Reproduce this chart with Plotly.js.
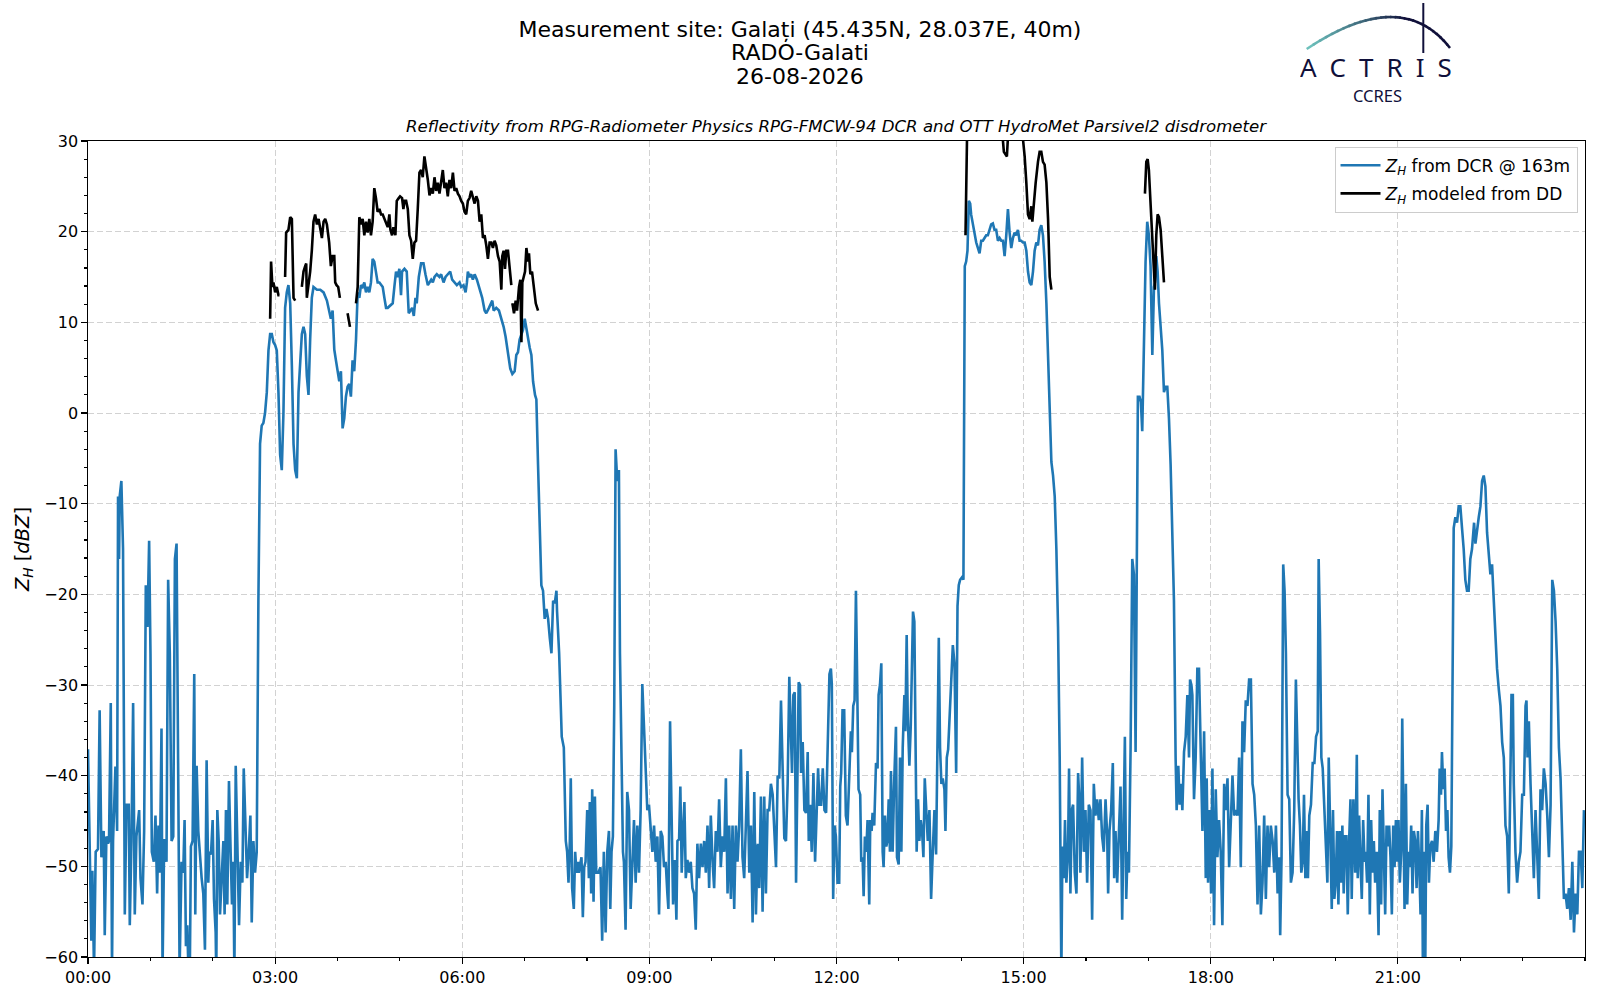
<!DOCTYPE html>
<html>
<head>
<meta charset="utf-8">
<script src="https://cdn.plot.ly/plotly-3.0.1.min.js"></script>
<style>
  html, body { margin: 0; padding: 0; background: #fff; }
  #chart { width: 1600px; height: 1000px; }
</style>
</head>
<body>
<div id="chart"></div>
<script>
/* global Plotly */
// Z_H from the cloud radar at 163 m, minutes after 00:00
const DCR_MINUTES = [
  0.0, 1.6, 3.2, 4.2, 5.8, 7.4, 9.6, 11.2, 12.9, 15.1,
  16.1, 17.7, 19.3, 20.2, 21.9, 23.1, 24.1, 26.4, 28.0, 28.9,
  29.9, 30.5, 32.1, 33.7, 35.4, 37.0, 39.2, 40.2, 41.8, 43.4,
  45.0, 46.6, 48.2, 49.2, 50.5, 52.4, 54.0, 55.6, 57.2, 58.8,
  60.1, 61.4, 63.3, 64.9, 66.5, 67.8, 69.1, 70.7, 71.7, 73.3,
  75.5, 77.1, 78.7, 80.4, 82.0, 83.6, 85.2, 86.8, 88.1, 90.0,
  91.6, 92.9, 94.2, 95.5, 96.7, 98.0, 99.0, 100.6, 102.2, 103.2,
  104.5, 106.1, 107.7, 109.3, 110.9, 112.5, 114.1, 115.7, 116.7, 118.3,
  119.9, 121.2, 122.8, 123.4, 124.4, 125.7, 127.0, 128.6, 130.2, 131.4,
  132.7, 134.0, 135.6, 137.2, 138.5, 139.8, 140.8, 142.1, 143.7, 145.3,
  146.9, 148.5, 149.8, 151.4, 153.0, 154.6, 156.2, 157.5, 159.1, 160.7,
  162.3, 163.9, 165.5, 167.1, 168.7, 170.3, 172.0, 173.6, 175.2, 176.8,
  178.4, 180.0, 181.6, 183.2, 184.8, 186.4, 188.0, 189.6, 191.2, 192.8,
  194.5, 196.1, 197.7, 199.3, 200.9, 202.5, 204.1, 205.7, 207.3, 208.9,
  210.5, 212.1, 213.7, 215.3, 216.9, 220.2, 223.4, 226.6, 229.8, 231.4,
  233.6, 235.3, 236.9, 238.5, 240.1, 241.7, 243.3, 244.9, 246.5, 248.1,
  249.7, 251.3, 252.9, 254.5, 256.1, 257.8, 259.4, 261.0, 262.6, 264.2,
  265.8, 267.4, 269.0, 270.6, 272.2, 273.8, 275.4, 277.0, 278.6, 280.3,
  281.9, 283.5, 285.1, 286.7, 288.3, 289.9, 293.1, 294.7, 296.3, 297.9,
  299.5, 301.1, 302.1, 304.4, 306.6, 308.5, 309.8, 311.8, 313.4, 315.0,
  316.2, 318.2, 320.4, 322.7, 324.6, 326.9, 330.1, 331.7, 333.3, 335.5,
  338.1, 339.7, 342.0, 343.9, 346.1, 348.4, 350.3, 352.6, 354.8, 357.4,
  359.0, 361.2, 363.2, 364.5, 365.4, 367.0, 368.6, 370.2, 371.9, 374.1,
  376.7, 379.2, 381.5, 383.1, 385.7, 387.3, 388.9, 390.2, 392.7, 395.3,
  397.6, 399.8, 401.7, 404.0, 406.2, 408.2, 410.4, 412.0, 413.6, 415.2,
  416.9, 418.5, 420.1, 421.7, 423.3, 424.9, 426.5, 428.1, 430.0, 431.3,
  432.9, 434.5, 436.1, 437.7, 439.3, 441.0, 442.6, 444.2, 445.8, 447.4,
  449.0, 450.6, 451.2, 453.2, 454.5, 455.7, 457.7, 459.6, 460.9, 462.2,
  463.5, 464.4, 465.7, 467.3, 468.6, 469.9, 471.5,
  472.1, 474.7, 476.0, 477.3, 478.6, 480.2, 481.8, 482.7, 484.0, 485.0,
  486.3, 487.6, 488.9, 490.8, 493.0, 494.6, 496.2, 497.9, 499.5, 501.1,
  502.4, 503.6, 504.9, 506.2, 507.5, 509.1, 510.7, 511.7, 513.0, 514.6,
  515.5, 517.1, 518.7, 520.4, 522.0, 523.6, 525.2, 526.8, 528.4, 530.0,
  531.6, 533.2, 534.8, 536.4, 538.0, 539.6, 541.2, 542.9, 544.5, 546.1,
  547.7, 549.3, 550.9, 552.5, 554.1, 555.7, 557.3, 558.3, 559.9, 561.5,
  562.8, 564.4, 566.0, 567.0, 568.6, 569.8, 571.1, 572.4, 573.7, 575.0,
  576.6, 578.2, 579.8, 581.4, 583.0, 584.6, 586.2, 587.8, 589.5, 591.1,
  592.7, 594.3, 595.9, 597.5, 599.1, 600.7, 602.3, 603.9, 605.5, 607.1,
  608.7, 610.3, 612.0, 613.6, 615.2, 616.8, 618.4, 620.0, 621.6, 623.2,
  624.8, 626.4, 628.0, 629.6, 631.2, 632.8, 634.4, 636.1, 637.7, 639.3,
  640.9, 642.5, 644.1, 645.7, 647.3, 648.9, 650.5, 652.1, 653.7, 655.3,
  656.9, 658.6, 660.2, 661.8, 663.4, 665.0, 666.6, 668.2, 669.8, 671.4,
  673.0, 674.6, 675.6, 677.2, 678.5, 679.8, 681.1, 682.3, 683.6, 684.9,
  685.9, 687.5, 689.1, 690.7, 692.3, 693.3, 694.6, 696.2, 697.8, 699.4,
  701.0, 702.3, 703.6, 705.2, 706.8, 708.4, 710.0, 711.6, 713.2,
  714.6, 715.5, 716.8, 718.1, 719.4, 721.0, 722.6, 723.6, 724.5, 725.8,
  727.4, 729.0, 730.6, 732.2, 733.8, 734.8, 736.1, 737.4, 738.7, 739.6,
  741.2, 742.8, 743.8, 745.1, 746.1, 747.3, 748.6, 749.9, 751.5, 752.5,
  753.8, 754.7, 756.3, 758.0, 759.5, 760.5, 761.8, 763.1, 764.4, 765.3,
  766.6, 767.9, 768.9, 770.2, 771.4, 772.4, 774.0, 775.6, 777.2, 778.2,
  779.8, 781.1, 782.4, 783.7, 785.3, 786.2, 787.5, 788.5, 790.1, 791.4,
  792.6, 793.6, 794.9, 795.9, 797.1, 798.4, 799.7, 801.0, 802.3, 803.6,
  804.9, 806.1, 807.8, 809.4, 811.0, 812.6, 814.2, 815.8, 817.4, 818.4,
  819.6, 820.9, 822.2, 823.8, 824.8, 826.1, 827.4, 828.6, 830.3, 831.9,
  833.5, 835.1, 836.4, 837.6, 838.9, 840.9, 842.1, 842.8, 843.4, 844.7,
  846.0, 847.3, 848.6, 849.5, 851.1, 852.8, 854.4, 856.0, 857.6, 859.2,
  860.8, 862.4, 864.0, 865.6, 867.2, 868.8, 870.4, 872.0, 873.6, 875.3,
  876.9, 878.5, 880.1, 881.7, 883.3, 884.9, 886.5, 888.1, 889.7, 891.3,
  892.9, 894.5, 896.1, 897.7, 899.4, 901.0, 902.6, 904.2, 905.8, 907.4,
  909.0, 910.6, 912.2, 913.8, 915.4, 917.0, 918.6, 920.2, 921.9, 923.5,
  925.1, 926.7, 928.3, 929.9, 931.5, 933.1, 934.7, 935.3, 936.3, 937.3,
  938.6, 939.8, 941.1, 942.7, 943.7, 945.0, 946.3, 947.6, 949.2, 950.8,
  952.4, 954.0,
  954.6, 956.3, 957.9, 959.5, 961.1, 962.7, 964.3, 965.9, 967.5, 969.1,
  970.7, 972.3, 973.9, 975.5, 977.1, 978.8, 980.4, 981.3, 982.6, 984.2,
  985.8, 987.1, 988.4, 990.0, 991.6, 993.2, 994.8, 995.8, 997.4, 998.7,
  1000.0, 1001.3, 1002.9, 1004.5, 1006.1, 1007.7, 1008.6, 1009.9, 1011.5, 1012.8,
  1014.1, 1015.7, 1017.3, 1018.9, 1020.5, 1022.1, 1023.8, 1025.4, 1026.3, 1027.6,
  1028.9, 1030.2, 1031.8, 1033.4, 1035.0, 1036.6, 1038.2, 1039.8, 1041.4, 1043.0,
  1044.6, 1046.2, 1047.2, 1048.8, 1050.1, 1051.4, 1052.7, 1054.3, 1055.9, 1057.5,
  1059.1, 1060.1, 1061.4, 1062.3, 1063.9, 1065.5, 1067.1, 1068.7, 1070.4, 1072.0,
  1073.6, 1075.2, 1076.1, 1077.4, 1079.0, 1080.3, 1081.6, 1083.2, 1084.8, 1086.4,
  1088.0, 1089.6, 1091.2, 1092.9, 1094.5, 1096.1, 1097.7, 1099.3, 1100.9, 1102.5,
  1104.1, 1105.7, 1107.3, 1108.9, 1110.5, 1112.1, 1113.7, 1115.3, 1116.9, 1118.6,
  1120.2, 1121.8, 1123.4, 1125.0, 1126.6, 1128.2, 1129.8, 1131.4, 1133.0, 1134.6,
  1136.2, 1137.8, 1139.5, 1141.1, 1142.7, 1144.3, 1145.9, 1146.8, 1148.1, 1149.7,
  1151.0, 1152.3, 1153.9, 1155.5, 1157.1, 1158.7, 1160.3, 1161.9, 1163.2, 1164.5,
  1165.8, 1167.1, 1168.4, 1169.7, 1171.0, 1172.2, 1173.5, 1174.8, 1176.4, 1178.1,
  1179.7, 1181.3, 1182.9, 1183.8, 1185.1, 1186.4, 1187.7, 1189.3, 1190.9, 1192.2,
  1193.5,
  1195.1, 1196.4, 1197.6, 1198.9, 1200.2, 1201.5, 1202.8, 1204.1, 1205.4, 1206.6,
  1207.9, 1209.2, 1210.5, 1211.8, 1213.1, 1214.4, 1215.6, 1217.2, 1218.9, 1220.5,
  1221.4, 1222.7, 1224.0, 1225.3, 1226.6, 1227.9, 1229.1, 1230.4, 1231.7, 1233.0,
  1234.3, 1235.6, 1236.9, 1238.1, 1239.7, 1241.4, 1242.6, 1243.9, 1245.2, 1246.5,
  1247.8, 1249.1, 1250.4, 1251.6, 1252.9, 1254.2, 1255.5, 1256.8, 1258.1, 1259.4,
  1260.6, 1261.9, 1263.2, 1264.2, 1265.5, 1266.4, 1267.7, 1269.0, 1270.3, 1271.6,
  1272.8, 1274.1, 1275.4, 1276.7, 1278.0, 1279.3, 1280.6, 1281.8, 1283.1, 1284.1,
  1285.4, 1286.3, 1287.3, 1288.6, 1289.9, 1291.2, 1292.8, 1294.4, 1296.0, 1297.6,
  1299.2, 1300.2, 1301.5, 1302.4, 1303.7, 1305.0, 1306.3, 1307.6, 1308.8, 1310.1,
  1311.4, 1312.7, 1313.7, 1315.3, 1316.9, 1318.5, 1320.1, 1321.7, 1323.3, 1324.9,
  1326.5, 1328.1, 1329.7, 1331.3, 1332.3, 1333.3, 1334.6, 1336.2, 1337.8, 1339.4,
  1341.0, 1342.6, 1344.2, 1345.8, 1347.4, 1349.0, 1350.6, 1352.2, 1353.8, 1355.4,
  1357.1, 1358.7, 1360.3, 1361.9, 1363.5, 1365.1, 1366.7, 1368.0, 1369.3, 1370.6,
  1371.5, 1373.1, 1374.7, 1376.3, 1377.9, 1379.6, 1381.2, 1382.8, 1383.7, 1384.7,
  1386.0, 1387.6, 1389.2, 1390.8, 1392.4, 1394.0, 1395.6, 1397.2, 1398.8, 1400.4,
  1402.1, 1403.7, 1405.3, 1406.9, 1408.5, 1410.1, 1411.7, 1413.3, 1414.9, 1416.5,
  1418.1, 1419.7, 1421.3, 1422.9, 1424.5, 1426.2, 1427.8, 1429.4, 1431.0, 1432.6,
  1434.2, 1435.8, 1437.4, 1439.0
];
const DCR_ZH = [
  -37.1, -50.0, -58.2, -50.5, -61.5, -48.4, -48.1, -32.8, -49.0, -46.1,
  -57.6, -46.7, -47.5, -47.2, -32.0, -61.5, -47.2, -39.0, -46.1, -9.2,
  -16.1, -9.2, -7.5, -15.0, -55.3, -43.2, -43.2, -56.5, -47.2, -32.0,
  -55.3, -46.7, -44.4, -43.8, -51.3, -54.2, -46.1, -19.0, -23.6, -14.1,
  -26.5, -48.4, -49.5, -44.4, -53.0, -45.5, -50.7, -34.8, -61.5, -47.0,
  -49.5, -18.4, -26.5, -47.2, -46.7, -16.1, -14.4, -38.0, -61.5, -49.5,
  -50.7, -44.9, -58.8, -56.5, -62.0, -61.0, -47.8, -47.2, -28.8, -55.3,
  -38.9, -46.1, -49.0, -51.3, -53.0, -59.2, -38.3, -51.8, -48.4, -48.7,
  -44.9, -53.6, -57.3, -62.0, -43.8, -47.2, -55.3, -51.8, -47.2, -55.3,
  -43.8, -54.2, -40.6, -48.4, -54.2, -49.5, -62.0, -38.9, -48.4, -56.5,
  -49.5, -51.8, -39.2, -46.1, -51.3, -48.4, -44.4, -56.2, -47.2, -50.7,
  -48.4, -20.7, -3.4, -1.4, -1.1, 0.0, 2.3, 6.9, 8.7, 8.7,
  7.8, 7.5, 6.9, 2.3, -4.6, -6.3, 0.0, 11.6, 13.3, 14.1,
  12.1, 5.2, -3.4, -6.3, -7.2, 2.3, 5.8, 8.7, 9.5, 8.7,
  4.1, 2.0, 8.1, 12.7, 13.9, 13.6, 13.6, 13.3, 12.4, 11.6,
  10.4, 11.3, 7.0, 5.8, 4.6, 3.5, 4.6, -1.7, -0.6, 1.8,
  2.9, 3.2, 1.8, 5.8, 4.6, 8.1, 13.3, 12.7, 14.1, 13.9,
  14.4, 13.3, 13.9, 13.3, 14.4, 17.0, 16.7, 15.6, 14.4, 14.4,
  14.1, 13.9, 12.7, 11.6, 11.6, 11.8, 12.1, 13.9, 15.6, 15.0,
  15.9, 13.0, 15.6, 15.9, 15.6, 11.0, 11.3, 11.6, 10.7, 12.7,
  12.1, 15.0, 16.5, 16.5, 15.3, 14.1, 14.7, 14.4, 15.0, 15.3,
  15.0, 15.3, 14.4, 15.0, 15.3, 15.6, 14.7, 14.4, 14.1, 14.4,
  13.9, 14.1, 13.3, 14.4, 15.6, 15.0, 15.3, 14.7, 15.3, 14.7,
  13.6, 12.7, 11.3, 11.0, 11.6, 12.1, 12.4, 11.3, 11.6, 11.3,
  10.4, 9.5, 8.4, 6.4, 4.9, 4.3, 4.6, 6.4, 6.7, 8.1,
  8.7, 9.2, 10.4, 9.2, 8.1, 7.2, 6.4, 3.5, 2.0, 1.5,
  -5.7, -13.8, -19.0, -19.6, -22.7, -21.6, -22.7, -24.8, -26.5, -20.7,
  -21.0, -19.6, -21.9, -26.5, -32.3, -35.7, -36.9, -47.2, -48.4, -51.8,
  -47.2, -40.3, -52.4, -54.7, -48.4, -50.7, -49.5,
  -50.7, -49.0, -55.6, -50.1, -49.5, -43.8, -51.3, -42.9, -53.0, -41.5,
  -53.9, -42.3, -50.7, -50.7, -50.1, -58.2, -48.4, -57.3, -48.4, -46.1,
  -54.7, -48.4, -46.7, -32.3, -4.0, -7.5, -6.3, -26.5, -38.0, -48.4,
  -49.5, -57.0, -41.8, -43.8, -54.7, -49.5, -44.9, -51.8, -45.5, -50.7,
  -43.8, -29.9, -34.0, -38.0, -43.8, -43.2, -46.1, -48.4, -45.5, -49.5,
  -46.7, -55.3, -46.1, -46.7, -50.1, -49.5, -53.0, -54.7, -34.0, -43.8,
  -54.2, -49.3, -55.9, -47.2, -47.0, -41.2, -50.7, -46.1, -42.9, -51.3,
  -49.3, -50.7, -49.5, -52.4, -53.0, -57.0, -47.5, -51.3, -47.5, -50.1,
  -47.2, -50.7, -45.5, -52.4, -44.4, -49.3, -52.4, -46.1, -48.4, -42.6,
  -50.1, -46.7, -48.4, -40.3, -53.0, -45.5, -53.6, -45.5, -54.7, -45.5,
  -49.5, -45.5, -37.1, -49.0, -51.3, -45.5, -39.5, -50.7, -45.5, -56.2,
  -41.8, -55.3, -47.5, -52.4, -42.3, -55.0, -42.3, -53.0, -43.8, -43.8,
  -40.9, -42.1, -45.5, -50.1, -40.0, -40.3, -31.7, -38.0, -46.9, -47.2,
  -40.9, -29.1, -32.3, -39.7, -31.1, -30.8, -51.8, -40.3, -29.7, -30.0,
  -39.7, -36.3, -43.8, -44.1, -37.4, -47.2, -43.2, -48.4, -39.7, -49.5,
  -43.8, -39.2, -43.2, -43.2, -39.2, -43.8, -44.1, -35.7, -28.8,
  -28.2, -29.9, -53.6, -45.5, -46.7, -51.8, -51.8, -41.2, -39.7, -32.8,
  -32.8, -44.4, -45.5, -39.7, -35.1, -37.4, -32.3, -31.7, -19.6, -27.1,
  -41.5, -42.1, -49.5, -49.0, -53.3, -46.7, -48.4, -44.9, -54.2, -44.9,
  -46.1, -44.1, -45.5, -38.6, -39.2, -31.1, -30.0, -27.6, -48.4, -50.1,
  -44.4, -47.8, -47.2, -42.6, -48.4, -39.5, -48.4, -40.3, -34.6, -49.0,
  -49.8, -38.0, -48.4, -36.9, -31.1, -35.1, -24.5, -33.4, -38.9, -34.6,
  -26.5, -21.9, -23.0, -38.0, -48.4, -42.6, -47.2, -44.9, -46.1, -49.0,
  -40.3, -43.2, -47.2, -43.8, -53.6, -48.4, -43.8, -48.7, -32.3, -24.8,
  -36.9, -40.9, -40.3, -41.5, -46.1, -38.0, -37.1, -34.0, -29.4, -25.6,
  -27.6, -39.7, -21.3, -19.0, -18.4, -18.1, -18.4, 2.3, 16.2, 16.7,
  17.9, 23.4, 23.1, 21.9, 20.8, 19.6, 18.8, 18.2, 17.6, 19.0,
  19.0, 19.3, 19.6, 19.6, 20.2, 20.8, 20.9, 20.2, 20.2, 19.0,
  19.3, 19.0, 19.0, 17.3, 19.6, 22.5, 19.9, 18.2, 19.3, 19.9,
  19.6, 20.2, 19.0, 19.0, 18.8, 18.8, 17.9, 15.6, 14.4, 14.1,
  15.6, 17.9, 18.8, 18.5, 20.2, 20.7, 19.6, 16.7, 12.1, 6.9,
  1.2, -5.4, -6.9, -9.2, -15.0, -23.6, -38.0, -47.2, -62.0, -47.8,
  -51.3, -44.9, -51.8, -48.4, -39.2, -53.0, -43.8, -43.2, -50.7, -53.0,
  -39.7, -43.8,
  -50.7, -38.0, -48.4, -43.8, -51.8, -43.2, -43.8, -55.9, -40.9, -44.4,
  -42.6, -44.9, -42.6, -46.7, -48.4, -42.6, -46.7, -53.0, -46.1, -43.8,
  -38.6, -51.3, -46.1, -51.8, -47.2, -41.2, -55.9, -49.5, -35.7, -53.6,
  -48.4, -50.7, -36.9, -16.1, -17.8, -37.4, -24.2, 1.8, 1.8, 1.2,
  -2.0, 6.9, 16.7, 21.1, 19.6, 16.2, 6.4, 13.9, 14.4, 17.3,
  15.6, 12.1, 9.2, 6.9, 2.3, 2.9, 2.9, -0.6, -5.7, -12.1,
  -20.7, -38.0, -43.8, -38.9, -43.2, -40.9, -43.8, -37.4, -35.7, -31.1,
  -38.0, -29.4, -30.0, -31.1, -42.6, -38.0, -28.2, -28.2, -38.0, -46.1,
  -35.1, -51.3, -40.3, -51.8, -43.8, -53.0, -39.2, -56.5, -41.5, -49.0,
  -44.9, -48.4, -56.5, -40.9, -43.8, -40.3, -50.1, -43.8, -40.0, -44.4,
  -43.8, -44.4, -38.0, -50.1, -34.0, -37.4, -31.7, -32.3, -29.4, -29.4,
  -40.9, -42.1, -45.5, -54.2, -45.5, -55.3, -51.8, -44.4, -53.6, -45.5,
  -50.1, -45.5, -47.2, -50.7, -45.5, -53.0, -49.0, -57.6, -49.0, -16.7,
  -19.6, -26.5, -42.1, -42.6, -51.8, -50.7, -43.8, -29.4, -37.4, -42.6,
  -45.5, -50.7, -49.5, -42.1, -51.3, -46.1, -51.3, -44.4, -43.2, -38.6,
  -38.6, -35.7, -35.1, -16.1, -24.2, -38.0, -39.2, -43.2, -47.2, -51.8,
  -38.0,
  -48.4, -54.7, -43.8, -53.6, -51.8, -46.1, -54.2, -46.1, -51.8, -45.5,
  -53.0, -46.7, -46.7, -55.3, -47.2, -42.6, -53.6, -42.6, -50.7, -37.7,
  -51.3, -44.4, -49.5, -53.6, -44.9, -49.5, -48.4, -51.8, -42.1, -55.3,
  -44.9, -50.7, -47.2, -51.8, -48.4, -57.6, -43.8, -54.2, -41.5, -48.4,
  -55.3, -45.5, -47.8, -45.5, -49.0, -55.3, -45.5, -50.1, -44.9, -49.5,
  -44.9, -51.8, -48.4, -33.7, -49.5, -54.7, -40.9, -54.2, -48.4, -50.1,
  -45.5, -53.0, -46.1, -47.2, -52.4, -46.1, -50.1, -55.3, -43.8, -62.0,
  -48.4, -62.0, -45.5, -43.2, -51.8, -47.8, -47.2, -49.5, -46.1, -48.4,
  -44.9, -39.2, -42.1, -37.4, -41.5, -39.2, -46.1, -43.8, -49.0, -50.7,
  -47.8, -26.5, -12.7, -11.5, -12.1, -10.3, -10.3, -12.7, -15.0, -18.4,
  -19.6, -19.6, -16.1, -15.0, -13.8, -12.1, -14.4, -12.7, -11.5, -10.3,
  -7.5, -6.9, -8.1, -13.2, -16.1, -17.8, -16.7, -20.7, -25.9, -28.2,
  -30.5, -32.3, -36.3, -38.0, -45.5, -46.7, -53.0, -41.5, -31.1, -31.1,
  -40.9, -48.4, -51.8, -49.5, -48.4, -42.1, -42.1, -32.3, -31.7, -38.0,
  -34.0, -40.9, -45.5, -51.3, -43.8, -49.0, -53.6, -41.5, -43.8, -39.2,
  -40.9, -44.4, -49.0, -43.2, -18.4, -19.6, -23.0, -28.2, -36.9, -40.3,
  -46.7, -53.6, -53.0, -54.7, -52.4, -55.9, -49.5, -57.3, -53.0, -55.3,
  -48.4, -48.4, -52.4, -43.8
];

// Z_H modelled from the disdrometer drop size distribution; null = no data
const DD_MINUTES = [
  175.2, 176.1, 177.4, 178.4, 180.0, 181.6, 183.2, 184.2, 186.9,
  189.6, 190.6, 192.8, 194.5, 196.1, 197.7, 199.3, 202.5,
  205.7, 207.3, 208.9, 209.9, 210.5, 212.1, 213.7, 215.3, 216.9, 218.5,
  220.2, 221.8, 223.4, 225.0, 226.6, 228.2, 229.8, 231.4, 232.0, 233.6,
  235.3, 236.9, 237.8, 239.1, 240.7, 242.3, 246.0,
  249.7, 252.0, 255.0,
  257.8, 259.4, 261.0, 262.6, 264.2, 265.8, 267.4, 269.0, 270.6, 272.2,
  273.8, 275.4, 277.0, 278.6, 280.3, 281.9, 283.5, 285.1, 286.7, 288.3,
  289.9, 290.9, 292.5, 293.8, 295.7, 297.0, 298.9, 300.2, 302.1, 303.4,
  304.4, 306.0, 307.6, 309.2, 310.8, 312.4, 314.0, 315.6, 317.2, 318.8,
  320.4, 322.0, 323.6, 325.2, 326.9, 328.5, 330.1, 331.7, 333.3, 334.9,
  336.5, 338.1, 339.7, 341.3, 342.9, 344.5, 346.1, 347.7, 349.4, 351.0,
  352.6, 354.2, 355.8, 357.4, 359.0, 360.6, 362.2, 363.8, 365.4, 367.0,
  368.6, 370.2, 371.9, 373.5, 375.1, 376.7, 378.3, 379.9, 381.5, 383.1,
  384.7, 386.3, 388.0, 389.5, 391.1, 392.7, 394.4, 396.0, 397.6, 398.5,
  399.8, 401.1, 402.4, 404.0, 405.6, 407.2, 407.7,
  408.2, 409.8, 411.4, 412.7, 414.6, 415.9, 416.9, 417.8, 419.1, 420.4,
  421.7, 423.3, 424.2, 425.5, 427.1, 428.8, 430.7, 432.9, 600.0,
  844.1, 845.7, 864.0, 879.4, 881.0, 882.6, 883.9, 885.2, 892.9, 898.7,
  901.0, 902.6, 904.2, 905.8, 907.4, 908.4, 909.7, 911.6, 913.8, 915.4,
  917.0, 918.6, 920.2, 921.9, 923.5, 925.1, 926.7, 970.0,
  1016.7, 1018.0, 1019.3, 1020.5, 1022.1, 1023.8, 1025.4, 1026.3, 1027.6, 1028.9,
  1030.2, 1031.8, 1033.4, 1035.0
];
const DD_ZH = [
  10.4, 16.7, 13.9, 14.4, 13.3, 13.9, 13.0, 13.0, null,
  15.0, 19.9, 20.2, 21.6, 21.4, 12.7, 12.4, null,
  13.9, 15.6, 16.2, 16.5, 12.7, 13.9, 15.6, 17.9, 21.1, 21.9,
  20.8, 21.4, 20.5, 19.3, 21.1, 21.4, 20.8, 19.6, 18.8, 16.2,
  17.3, 17.3, 14.4, 14.1, 13.9, 12.7, null,
  11.0, 9.5, null,
  12.1, 13.9, 21.6, 20.8, 21.4, 19.6, 21.1, 19.9, 21.4, 19.6,
  21.1, 24.8, 23.7, 22.2, 22.5, 21.9, 21.9, 21.4, 20.8, 20.5,
  21.9, 20.2, 19.6, 20.5, 19.6, 23.4, 23.7, 23.9, 23.7, 22.5,
  23.4, 23.4, 22.5, 19.6, 19.0, 17.0, 18.8, 19.0, 22.5, 26.5,
  26.8, 26.0, 28.3, 27.1, 25.7, 24.0, 24.8, 24.2, 26.0, 24.5,
  25.4, 24.2, 25.7, 26.8, 24.8, 25.4, 23.9, 25.7, 24.8, 26.5,
  24.5, 24.8, 24.2, 23.9, 23.4, 23.1, 22.2, 21.9, 23.4, 23.7,
  24.5, 23.9, 23.1, 23.9, 23.4, 21.1, 21.9, 19.3, 19.6, 18.5,
  17.0, 18.8, 18.8, 18.2, 19.0, 18.5, 17.3, 16.7, 13.6, 17.3,
  17.9, 15.9, 17.9, 17.9, 15.6, 14.1, null,
  12.1, 11.0, 12.4, 11.3, 13.9, 14.7, 7.8, 14.4, 15.0, 15.6,
  18.2, 16.7, 17.6, 15.3, 15.6, 13.9, 12.1, 11.3, null,
  19.6, 31.5, 32.0, 31.0, 28.8, 28.5, 28.3, 31.0, 33.0, 31.0,
  28.3, 25.4, 21.9, 21.4, 22.8, 21.1, 23.1, 25.4, 27.7, 28.8,
  28.8, 27.7, 27.4, 25.4, 21.4, 15.0, 13.6, null,
  24.2, 27.7, 28.0, 26.8, 23.1, 19.6, 16.2, 13.6, 19.6, 21.9,
  21.6, 20.2, 17.3, 14.4
];

const TICK_MINUTES = [0, 180, 360, 540, 720, 900, 1080, 1260];
const TICK_LABELS = ['00:00', '03:00', '06:00', '09:00', '12:00', '15:00', '18:00', '21:00'];

const TITLE_LINES = ['Measurement site: Galați (45.435N, 28.037E, 40m)', 'RADO-Galati', '26-08-2026'];
const SUBTITLE = 'Reflectivity from RPG-Radiometer Physics RPG-FMCW-94 DCR and OTT HydroMet Parsivel2 disdrometer';

const W = 1600;
const H = 1000;
const MARGIN = { l: 88, r: 15, t: 141, b: 43 };
const FONT = 'DejaVu Sans, Liberation Sans, sans-serif';
const NAVY = '#10103a';

// pixel position on the page -> paper coordinates (title block and logo)
function px(x) { return (x - MARGIN.l) / (W - MARGIN.l - MARGIN.r); }
function py(y) { return (H - MARGIN.b - y) / (H - MARGIN.t - MARGIN.b); }

function logoShapes() {
  const shapes = [];
  const p0 = [1306.7, 49], c = [1401.6, -14.5], p1 = [1450, 48];
  const teal = [112, 198, 192];
  const navy = [16, 16, 58];
  const n = 30;
  const pt = function (t) {
    const a = (1 - t) * (1 - t), b = 2 * t * (1 - t), d = t * t;
    return [a * p0[0] + b * c[0] + d * p1[0], a * p0[1] + b * c[1] + d * p1[1]];
  };
  for (let i = 0; i < n; i++) {
    const t0 = i / n, t1 = Math.min(1, (i + 1.3) / n);
    const k = Math.min(1, ((t0 + t1) / 2) / 0.62);
    const col = teal.map(function (v, j) { return Math.round(v + (navy[j] - v) * k); });
    const a = pt(t0), b = pt(t1);
    shapes.push({
      type: 'line', xref: 'paper', yref: 'paper',
      x0: px(a[0]), y0: py(a[1]), x1: px(b[0]), y1: py(b[1]),
      line: { color: 'rgb(' + col.join(',') + ')', width: 2.6 }
    });
  }
  shapes.push({
    type: 'line', xref: 'paper', yref: 'paper',
    x0: px(1423.3), y0: py(3), x1: px(1423.3), y1: py(53),
    line: { color: NAVY, width: 2 }
  });
  return shapes;
}

function textNote(text, x, y, size, extra) {
  return Object.assign({
    text: text, xref: 'paper', yref: 'paper', x: px(x), y: py(y),
    xanchor: 'center', yanchor: 'middle', showarrow: false,
    font: { family: FONT, size: size, color: '#000' }
  }, extra || {});
}

const zh = '<i>Z</i><sub><i>H</i></sub>';

const traces = [
  {
    x: DCR_MINUTES, y: DCR_ZH, type: 'scatter', mode: 'lines',
    name: zh + ' from DCR @ 163m', legendgroup: 'dcr',
    line: { color: '#1f77b4', width: 2.6 }
  },
  {
    x: DD_MINUTES, y: DD_ZH, type: 'scatter', mode: 'lines',
    name: zh + ' modeled from DD', legendgroup: 'dd',
    line: { color: '#000000', width: 2.6 },
    connectgaps: false
  }
];

const axisCommon = {
  showline: true, linecolor: '#000', linewidth: 1.2, mirror: true,
  ticks: 'outside', ticklen: 5.5, tickwidth: 1.2, tickcolor: '#000',
  showgrid: true, gridcolor: '#d2d2d2', gridwidth: 1, griddash: '6px,3px',
  zeroline: false, tickfont: { family: FONT, size: 16, color: '#000' }
};

const layout = {
  width: W, height: H,
  margin: MARGIN,
  paper_bgcolor: '#fff', plot_bgcolor: '#fff',
  font: { family: FONT, size: 16, color: '#000' },
  title: {
    text: TITLE_LINES[0],
    font: { family: FONT, size: 22, color: '#000' },
    x: 0.5, xref: 'container', xanchor: 'center',
    y: 1 - 29 / H, yref: 'container', yanchor: 'middle'
  },
  showlegend: true,
  legend: {
    x: 0.995, xanchor: 'right', y: 0.993, yanchor: 'top',
    traceorder: 'grouped', tracegroupgap: 3, itemwidth: 40,
    bgcolor: 'rgba(255,255,255,0.85)', bordercolor: '#cccccc', borderwidth: 1,
    font: { family: FONT, size: 17, color: '#000' }
  },
  xaxis: Object.assign({}, axisCommon, {
    range: [0, 1440],
    tickmode: 'array', tickvals: TICK_MINUTES, ticktext: TICK_LABELS,
    minor: { tickmode: 'linear', tick0: 0, dtick: 60, ticks: 'outside', ticklen: 3.2, tickcolor: '#000', showgrid: false }
  }),
  yaxis: Object.assign({}, axisCommon, {
    range: [-60, 30], dtick: 10, tick0: 0,
    minor: { dtick: 2, ticks: 'outside', ticklen: 3.2, tickcolor: '#000', showgrid: false },
    title: { text: zh + ' [<i>dBZ</i>]', font: { family: FONT, size: 19.5, color: '#000' }, standoff: 9 }
  }),
  annotations: [
    textNote(TITLE_LINES[1], 800, 52.5, 22),
    textNote(TITLE_LINES[2], 800, 76, 22),
    {
      text: '<i>' + SUBTITLE + '</i>', xref: 'paper', yref: 'paper',
      x: 0.5, y: 1, xanchor: 'center', yanchor: 'bottom', yshift: 3,
      showarrow: false, font: { family: FONT, size: 16.6, color: '#000' }
    },
    {
      text: 'A\u2002C\u2002T\u2002R\u2002I\u2002S', xref: 'paper', yref: 'paper',
      x: px(1376), y: py(66), xanchor: 'center', yanchor: 'middle', height: 27,
      showarrow: false, font: { family: 'Noto Sans, sans-serif', size: 26, color: NAVY }
    },
    {
      text: 'CCRES', xref: 'paper', yref: 'paper',
      x: px(1377), y: py(94.5), xanchor: 'center', yanchor: 'middle', height: 16,
      showarrow: false, font: { family: 'Noto Sans, sans-serif', size: 16.5, color: NAVY }
    }
  ],
  shapes: logoShapes()
};

Plotly.newPlot('chart', traces, layout, { staticPlot: true, displayModeBar: false });
</script>
</body>
</html>
